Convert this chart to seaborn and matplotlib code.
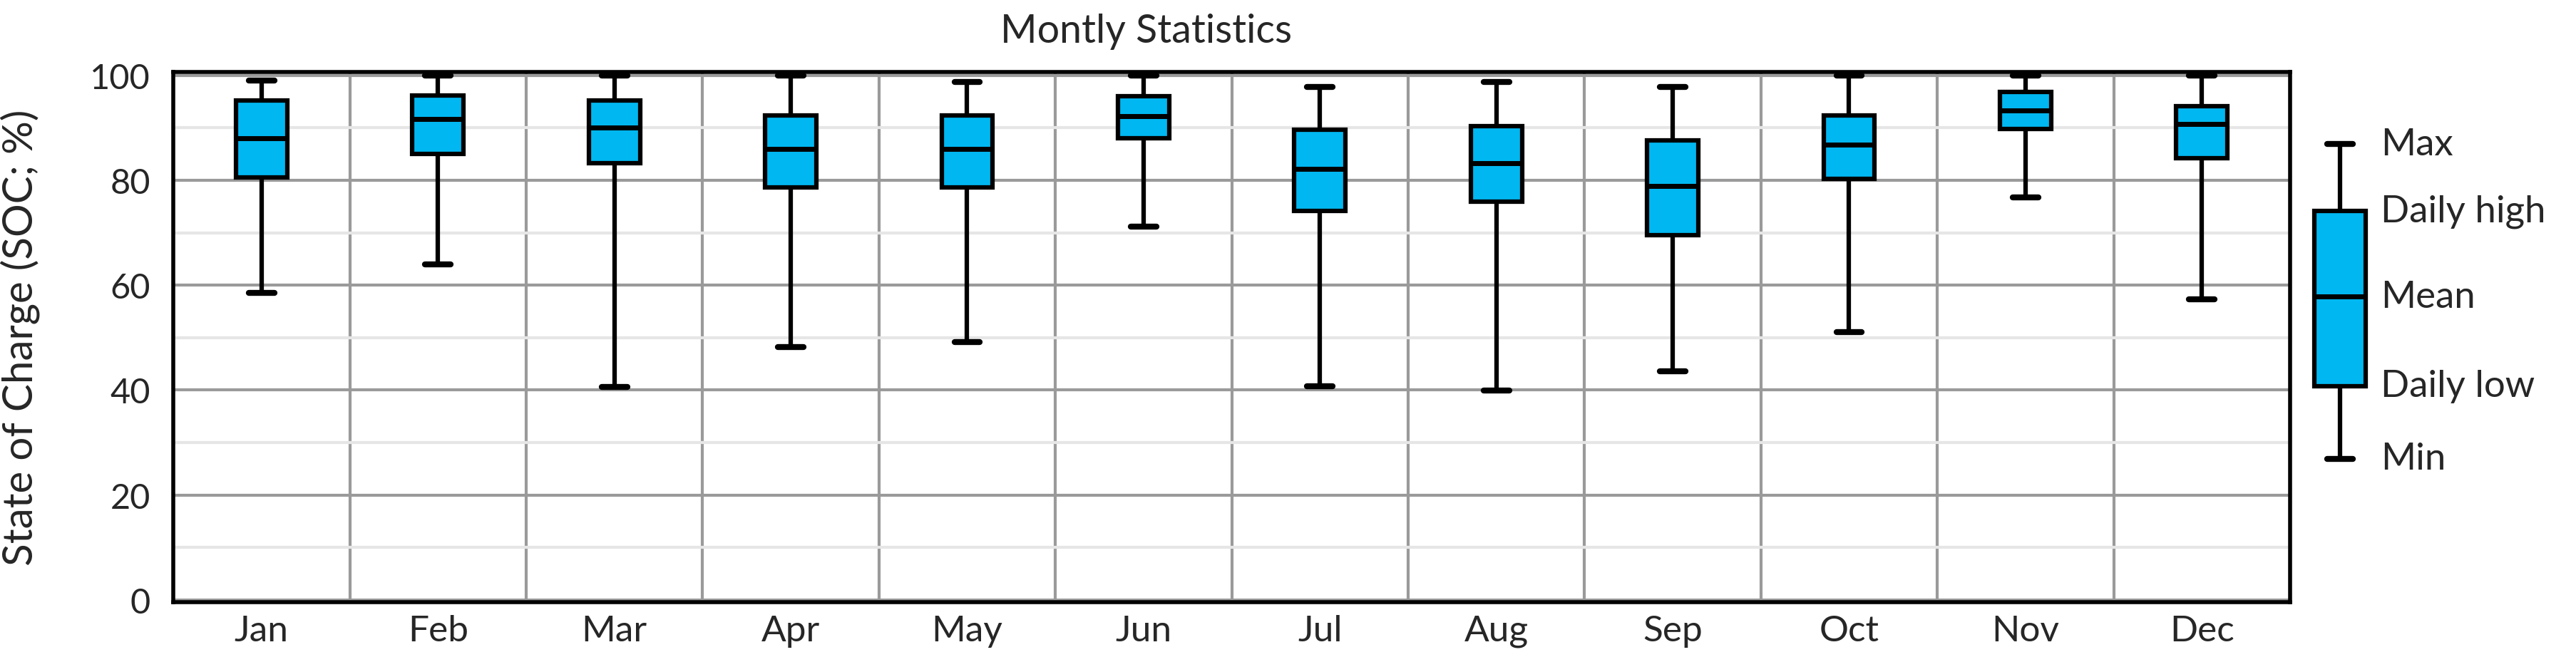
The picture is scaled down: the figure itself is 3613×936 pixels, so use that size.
import numpy as np
import pandas as pd
import seaborn as sns
from matplotlib import pyplot as plt
from matplotlib.ticker import MultipleLocator, FixedLocator

# monthly SOC statistics (%)
months = ['Jan', 'Feb', 'Mar', 'Apr', 'May', 'Jun',
          'Jul', 'Aug', 'Sep', 'Oct', 'Nov', 'Dec']
soc_max    = [99.0, 100.0, 100.0, 100.0, 98.8, 100.0, 97.8, 98.8, 97.8, 100.0, 100.0, 100.0]
daily_high = [95.2, 96.2, 95.2, 92.4, 92.4, 96.0, 89.7, 90.3, 87.6, 92.4, 96.8, 94.1]
soc_mean   = [88.0, 91.7, 90.0, 86.0, 86.0, 92.2, 82.2, 83.3, 78.9, 86.8, 93.3, 90.7]
daily_low  = [80.5, 85.0, 83.3, 78.7, 78.7, 88.0, 74.1, 75.9, 69.5, 80.3, 89.8, 84.2]
soc_min    = [58.6, 64.0, 40.6, 48.2, 49.2, 71.2, 40.7, 39.9, 43.6, 51.0, 76.8, 57.3]

# legend key box
legend_labels = ['Max', 'Daily high', 'Mean', 'Daily low', 'Min']
legend_vals = [86.9, 74.1, 57.8, 40.8, 26.9]

BOX_COLOR = '#00B7F1'
GRID = '#9a9a9a'
GRID_LIGHT = '#e6e6e6'

sns.set_style('white')
plt.rcParams['font.family'] = ['Lato', 'DejaVu Sans']

# 5 values per month -> quartiles land exactly on low / mean / high
rows = []
for i, m in enumerate(months):
    for v in (soc_min[i], daily_low[i], soc_mean[i], daily_high[i], soc_max[i]):
        rows.append((m, v))
df = pd.DataFrame(rows, columns=['month', 'soc'])

fig = plt.figure(figsize=(36.13, 9.37), dpi=100)
ax = fig.add_axes([0.0673, 0.097, 0.8217, 0.794])

box_kws = dict(whis=(0, 100), width=0.29, color=BOX_COLOR, saturation=1,
               linecolor='black', linewidth=4.5, showfliers=False,
               medianprops={'linewidth': 5},
               capprops={'linewidth': 6})

sns.boxplot(data=df, x='month', y='soc', order=months, ax=ax, **box_kws)

ylim = (-0.46, 100.65)
ax.set_ylim(*ylim)
ax.set_xlim(-0.5, 11.5)
ax.set_axisbelow(True)

ax.yaxis.set_major_locator(MultipleLocator(20))
ax.yaxis.set_minor_locator(MultipleLocator(10))
ax.xaxis.set_minor_locator(FixedLocator(np.arange(-0.5, 12, 1)))

ax.xaxis.grid(False, which='major')
ax.xaxis.grid(True, which='minor', color=GRID, linewidth=3)
ax.yaxis.grid(True, which='major', color=GRID, linewidth=3)
ax.yaxis.grid(True, which='minor', color=GRID_LIGHT, linewidth=3)

ax.tick_params(axis='x', which='major', length=0, pad=12, labelsize=37)
ax.tick_params(axis='x', which='minor', direction='out', length=13, width=3.5, color='black')
ax.tick_params(axis='y', which='major', direction='out', length=9, width=3,
               color='black', pad=14, labelsize=35)
ax.tick_params(axis='y', which='minor', length=0)

for s in ax.spines.values():
    s.set_visible(True)
    s.set_color('black')
    s.set_linewidth(4)

ax.set_xlabel('')
ax.set_ylabel('State of Charge (SOC; %)', fontsize=42)
ax.yaxis.set_label_coords(-0.063, 0.5)

fig.text(0.445, 0.952, 'Montly Statistics', ha='center', va='center', fontsize=40)

# legend key drawn as its own box on a transparent axes
lax = fig.add_axes([0.8741, 0.097, 0.0685, 0.794])
lax.patch.set_alpha(0)
sns.boxplot(y=legend_vals, ax=lax, **box_kws)
lax.set_xlim(-0.5, 0.5)
lax.set_ylim(*ylim)
lax.axis('off')
for lbl, v in zip(legend_labels, legend_vals):
    lax.text(0.23, v, lbl, ha='left', va='center', fontsize=38, clip_on=False)

fig.savefig('out.png', dpi=100, facecolor='white')
